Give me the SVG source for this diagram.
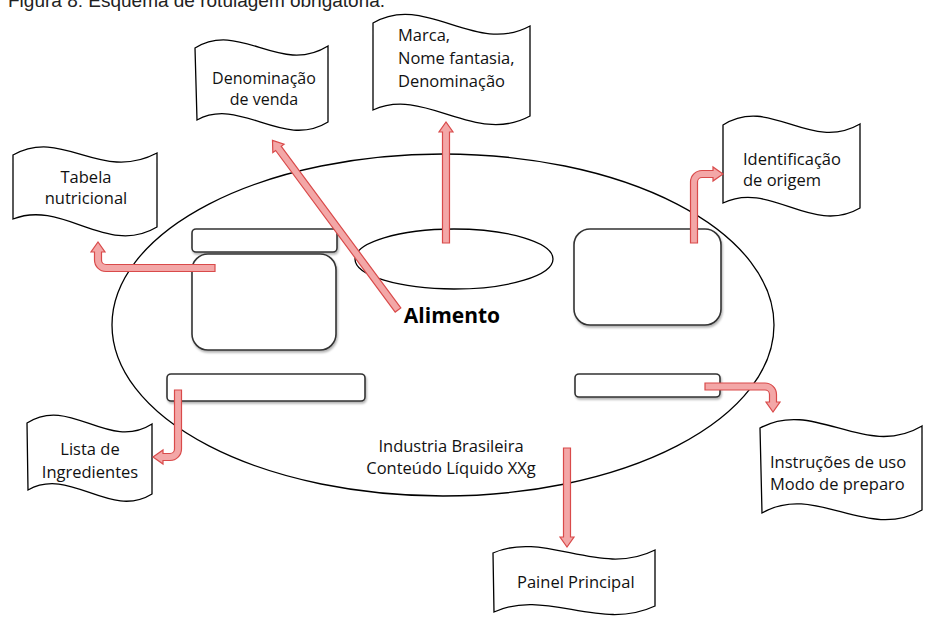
<svg xmlns="http://www.w3.org/2000/svg" width="925" height="617" viewBox="0 0 925 617">
<style>
.bg{fill:#fff}
.shape{fill:#fff;stroke:#000;stroke-width:1.3}
.box{fill:#fff;stroke:#333;stroke-width:1.6;filter:url(#sh)}
.flag{fill:#fff;stroke:#000;stroke-width:1.3}
.arrow{fill:#f3a7a7;stroke:#d94a4a;stroke-width:1.2;stroke-linejoin:miter}
.t{font-family:"Open Sans","Liberation Sans",sans-serif;font-size:16.5px;fill:#111}
.s{font-size:16px}
.c{text-anchor:middle}
.b{font-family:"Open Sans","Liberation Sans",sans-serif;font-size:21px;font-weight:bold;fill:#000}
.title{font-family:"Liberation Sans",Arial,sans-serif;font-size:19px;fill:#222}
</style>
<defs>
  <filter id="sh" x="-10%" y="-10%" width="120%" height="130%">
    <feDropShadow dx="1" dy="2" stdDeviation="1.2" flood-color="#000" flood-opacity="0.3"/>
  </filter>
</defs>
<rect class="bg" x="0" y="0" width="925" height="617"/>
<text class="title" x="8" y="7">Figura 8: Esquema de rotulagem obrigatória.</text>

<g id="embalagem">
  <ellipse class="shape" cx="443" cy="325" rx="331" ry="171"/>
</g>
<g id="marca-area">
  <ellipse class="shape" cx="454" cy="259" rx="99" ry="30"/>
</g>
<g id="tabela-barra"><rect class="box" x="192" y="229" width="145" height="23" rx="4"/></g>
<g id="tabela-area"><rect class="box" x="192" y="254" width="144" height="96" rx="16"/></g>
<g id="origem-area"><rect class="box" x="574" y="229" width="147" height="96" rx="16"/></g>
<g id="ingredientes-area"><rect class="box" x="167" y="374" width="198" height="27" rx="4"/></g>
<g id="instrucoes-area"><rect class="box" x="575" y="374" width="145" height="23" rx="4"/></g>

<g id="alimento"><text class="b" x="452" y="323" text-anchor="middle">Alimento</text></g>
<g id="industria">
  <text class="t c" x="451" y="452">Industria Brasileira</text>
  <text class="t c" x="451" y="474">Conteúdo Líquido XXg</text>
</g>

<g id="flag-tabela">
  <path class="flag" d="M13,155 C63,127 100,183 157,153 L157,227 C107,257 63,199 13,219 Z"/>
  <text class="t c" x="86" y="183">Tabela</text>
  <text class="t c" x="86" y="204">nutricional</text>
</g>
<g id="flag-denominacao">
  <path class="flag" d="M195,48 C240,20 280,76 328,46 L328,122 C283,150 240,96 197,120 Z"/>
  <text class="t s c" x="264" y="84">Denominação</text>
  <text class="t s c" x="264" y="105">de venda</text>
</g>
<g id="flag-marca">
  <path class="flag" d="M373,23 C425,-8 475,56 530,26 L530,116 C475,146 425,86 373,110 Z"/>
  <text class="t" x="398" y="41">Marca,</text>
  <text class="t" x="398" y="64">Nome fantasia,</text>
  <text class="t" x="398" y="87">Denominação</text>
</g>
<g id="flag-origem">
  <path class="flag" d="M723,125 C770,95 810,153 860,124 L860,208 C812,236 770,180 723,203 Z"/>
  <text class="t" x="743" y="165">Identificação</text>
  <text class="t" x="743" y="186">de origem</text>
</g>
<g id="flag-ingredientes">
  <path class="flag" d="M27,423 C70,395 108,452 152,424 L152,494 C110,520 70,466 28,490 Z"/>
  <text class="t c" x="90" y="455">Lista de</text>
  <text class="t c" x="90" y="478">Ingredientes</text>
</g>
<g id="flag-instrucoes">
  <path class="flag" d="M760,428 C815,398 865,460 922,426 L922,510 C867,542 815,482 762,513 Z"/>
  <text class="t" x="770" y="468">Instruções de uso</text>
  <text class="t" x="770" y="490">Modo de preparo</text>
</g>
<g id="flag-painel">
  <path class="flag" d="M493,553 C545,530 600,578 655,550 L655,606 C600,632 545,588 494,612 Z"/>
  <text class="t" x="517" y="588">Painel Principal</text>
</g>

<g id="connectors">
  <path class="arrow" d="M215,271.5 H106 A11.5,11.5 0 0 1 94.5,260 V252 H91 L98,242 L105,252 H101.5 V260 A4.5,4.5 0 0 0 106,264.5 H215 Z"/>
  <path class="arrow" transform="translate(398,310) rotate(-126.5)" d="M0,-3.5 H201 V-7 L211,0 L201,7 V3.5 H0 Z"/>
  <path class="arrow" transform="translate(446,243) rotate(-90)" d="M0,-3.5 H111 V-7 L121,0 L111,7 V3.5 H0 Z"/>
  <path class="arrow" d="M690.5,243 V182 A11.5,11.5 0 0 1 702,170.5 H713 V167 L723,174 L713,181 V177.5 H702 A4.5,4.5 0 0 0 697.5,182 V243 Z"/>
  <path class="arrow" d="M181.5,390 V449 A11.5,11.5 0 0 1 170,460.5 H163 V464 L153,457 L163,450 V453.5 H170 A4.5,4.5 0 0 0 174.5,449 V390 Z"/>
  <path class="arrow" d="M705,383 H765 A11.5,11.5 0 0 1 776.5,394.5 V402 H780 L773,412 L766,402 H769.5 V394.5 A4.5,4.5 0 0 0 765,390 H705 Z"/>
  <path class="arrow" transform="translate(567,448) rotate(90)" d="M0,-3.5 H89 V-7 L99,0 L89,7 V3.5 H0 Z"/>
</g>
</svg>
